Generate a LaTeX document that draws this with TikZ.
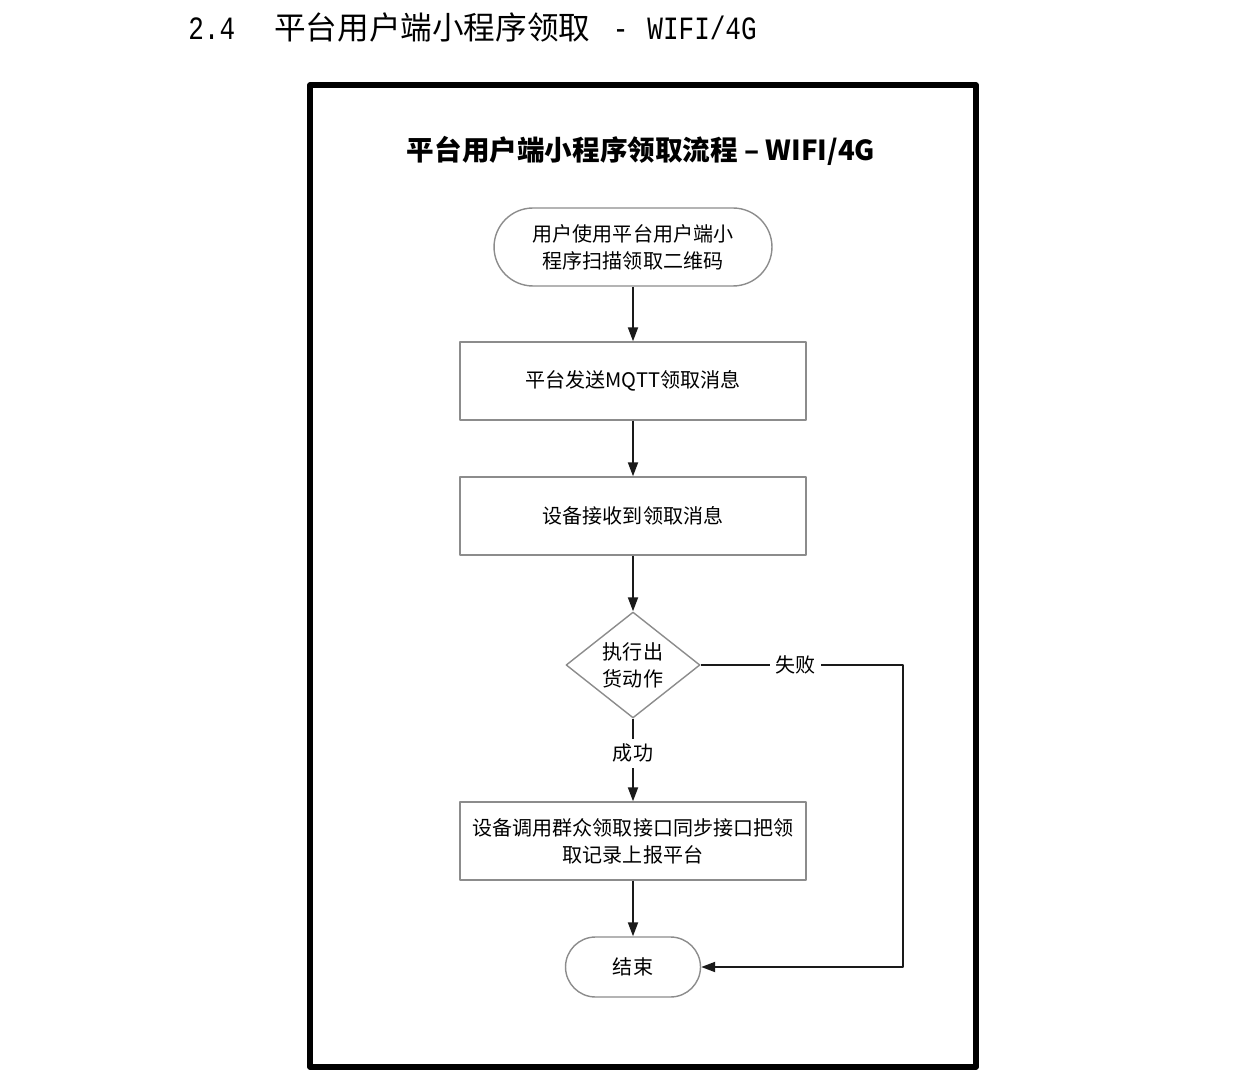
\documentclass[tikz,border=0pt]{standalone}
\usepackage{fontspec}
\newfontfamily\cjk{Noto Sans CJK SC}
\newfontfamily\hdmono{Liberation Mono}[FakeStretch=0.8]
\usetikzlibrary{arrows.meta,shapes.geometric}
\definecolor{flowborder}{HTML}{8C8C8C}
\definecolor{flowline}{HTML}{1A1A1A}

\begin{document}
\begin{tikzpicture}[
  x={(0.02cm,0)},
  y={(0,-0.02cm)},
  line join=round,
  font=\cjk,
  frame/.style={draw=black,line width=2.9pt},
  procbox/.style={draw=flowborder,line width=0.8pt,rectangle,minimum width=6.92cm,minimum height=1.56cm,align=center,font=\cjk\fontsize{11.4pt}{15.5pt}\selectfont},
  terminal/.style={draw=flowborder,line width=0.8pt,rectangle,align=center,font=\cjk\fontsize{11.4pt}{15.5pt}\selectfont},
  decision/.style={draw=flowborder,line width=0.8pt,diamond,aspect=1.26,inner sep=0pt,minimum width=2.68cm,minimum height=2.12cm,align=center,font=\cjk\fontsize{11.4pt}{15.5pt}\selectfont},
  flow/.style={draw=flowline,line width=1.1pt,-{Triangle[length=2.8mm,width=2mm]}},
  lbl/.style={fill=white,inner sep=3pt,font=\cjk\fontsize{11.4pt}{14pt}\selectfont}
]
  \useasboundingbox (0,0) rectangle (1240,1087);

  % Section heading above the frame.
  \node[anchor=west,inner sep=0pt] (heading) at (188,28)
    {{\hdmono\fontsize{18.5pt}{22pt}\selectfont 2.4}\hspace{0.78cm}{\cjk\fontsize{18pt}{22pt}\selectfont 平台用户端小程序领取}\hspace{0.45cm}{\hdmono\fontsize{18.5pt}{22pt}\selectfont -\hspace{0.38cm}WIFI/4G}};

  % Outer frame and chart title.
  \draw[frame] (310,85) rectangle (976,1067);
  \node[font=\cjk\bfseries\fontsize{15.7pt}{18pt}\selectfont] (title) at (641,151) {平台用户端小程序领取流程 – WIFI/4G};

  % Flow nodes.
  \node[terminal,minimum width=5.56cm,minimum height=1.56cm,rounded corners=0.78cm] (scan) at (633,247) {用户使用平台用户端小\\程序扫描领取二维码};
  \node[procbox] (send) at (633,381) {平台发送MQTT领取消息};
  \node[procbox] (recv) at (633,516) {设备接收到领取消息};
  \node[decision] (exec) at (633,665) {执行出\\货动作};
  \node[procbox] (report) at (633,841) {设备调用群众领取接口同步接口把领\\取记录上报平台};
  \node[terminal,minimum width=2.7cm,minimum height=1.2cm,rounded corners=0.6cm] (finish) at (633,967) {结束};
  \coordinate (failturn) at (903,665);

  % Connectors.
  \draw[flow] (scan) -- (send);
  \draw[flow] (send) -- (recv);
  \draw[flow] (recv) -- (exec);
  \draw[flow] (exec) -- node[lbl,pos=0.42] {成功} (report);
  \draw[flow] (report) -- (finish);
  \draw[flow] (exec.east) -- node[lbl,pos=0.47] {失败} (failturn) |- (finish.east);
\end{tikzpicture}
\end{document}
